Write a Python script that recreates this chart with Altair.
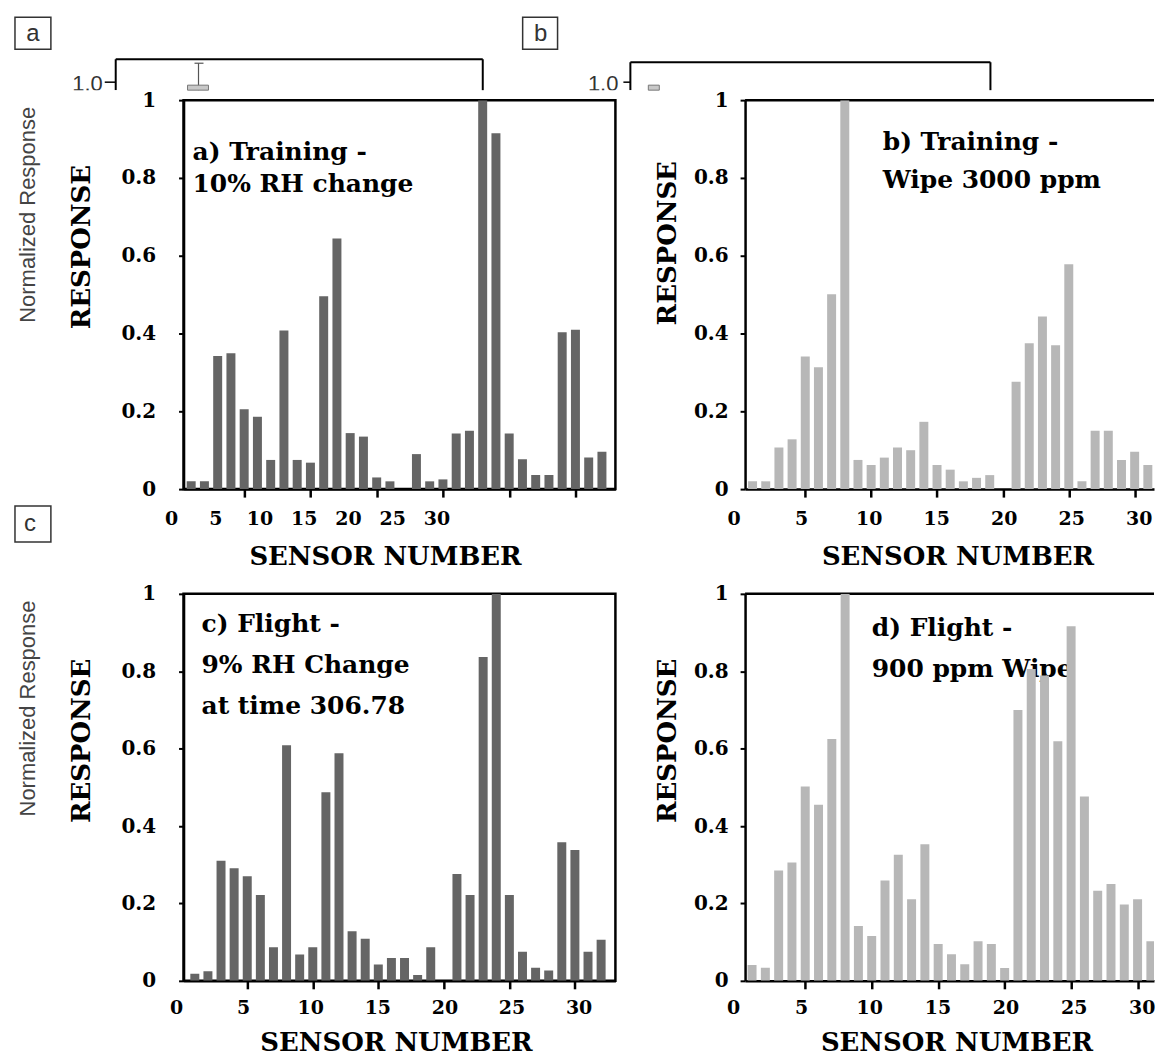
import altair as alt
import pandas as pd

# ---------------- data ----------------
sensors = list(range(1, 33))
resp_a = [0.02, 0.02, 0.342, 0.349, 0.205, 0.186, 0.075, 0.408, 0.075, 0.068,
          0.496, 0.644, 0.144, 0.135, 0.03, 0.02, 0.0, 0.09, 0.02, 0.025,
          0.143, 0.15, 1.0, 0.915, 0.143, 0.077, 0.036, 0.036, 0.403, 0.41,
          0.081, 0.096]
resp_b = [0.02, 0.02, 0.107, 0.128, 0.341, 0.313, 0.501, 1.0, 0.075, 0.062,
          0.081, 0.107, 0.10, 0.173, 0.062, 0.05, 0.02, 0.029, 0.036, 0.0,
          0.276, 0.375, 0.444, 0.37, 0.578, 0.02, 0.15, 0.15, 0.075, 0.096,
          0.062, 0.057]
resp_c = [0.018, 0.025, 0.31, 0.291, 0.27, 0.222, 0.087, 0.609, 0.068, 0.087,
          0.487, 0.588, 0.128, 0.109, 0.042, 0.059, 0.059, 0.015, 0.087, 0.0,
          0.276, 0.222, 0.837, 1.0, 0.222, 0.075, 0.034, 0.027, 0.358, 0.338,
          0.075, 0.106]
resp_d = [0.041, 0.034, 0.285, 0.306, 0.502, 0.455, 0.625, 1.0, 0.142, 0.116,
          0.259, 0.326, 0.211, 0.353, 0.095, 0.069, 0.043, 0.102, 0.095, 0.033,
          0.70, 0.806, 0.789, 0.619, 0.916, 0.476, 0.233, 0.25, 0.197, 0.211,
          0.102]
x_tick_labels = [0, 5, 10, 15, 20, 25, 30]
x_ticks = [5, 10, 15, 20, 25, 30]
y_ticks = [0, 0.2, 0.4, 0.6, 0.8, 1]
notes = {
    "a": ["a) Training -", "10% RH change"],
    "b": ["b) Training -", "Wipe 3000 ppm"],
    "c": ["c) Flight -", "9% RH Change", "at time 306.78"],
    "d": ["d) Flight -", "900 ppm  Wipe"],
}

SERIF = "DejaVu Serif"
SANS = "Liberation Sans"
DARK = "#656565"
LIGHT = "#b7b7b7"
W_L, W_R = 433, 410
H_T, H_B = 390, 388
ONE = alt.InlineData(values=[{"k": 0}])


def rule(x, y, x2=None, y2=None, w=2.0, color="black"):
    enc = dict(x=alt.value(x), y=alt.value(y))
    if x2 is not None:
        enc["x2"] = alt.value(x2)
    if y2 is not None:
        enc["y2"] = alt.value(y2)
    return alt.Chart(ONE).mark_rule(color=color, strokeWidth=w).encode(**enc)


def box(x, x2, y, y2, kind="outline"):
    if kind == "swatch":
        m = alt.Chart(ONE).mark_rect(color="#c8c8c8", stroke="#777777", strokeWidth=1)
    elif kind == "white":
        m = alt.Chart(ONE).mark_rect(color="white")
    else:
        m = alt.Chart(ONE).mark_rect(filled=False, stroke="#333333", strokeWidth=1.5)
    return m.encode(x=alt.value(x), x2=alt.value(x2), y=alt.value(y), y2=alt.value(y2))


def txt(text, x, y, size, font=SERIF, weight="normal", align="left",
        baseline="alphabetic", angle=0, lh=None, color="black"):
    kw = dict(text=text, font=font, fontSize=size, fontWeight=weight, align=align,
              baseline=baseline, angle=angle, color=color)
    if lh is not None:
        kw["lineHeight"] = lh
    return alt.Chart(ONE).mark_text(**kw).encode(x=alt.value(x), y=alt.value(y))


def bars(vals, color, xdom, ylab_pad, ytitle_x, ytitle_y, xtitle_x, xtitle_y):
    df = pd.DataFrame({"sensor": sensors[:len(vals)], "value": vals})
    return alt.Chart(df).mark_bar(size=9, color=color, clip=True).encode(
        x=alt.X("sensor:Q",
                scale=alt.Scale(domain=xdom, nice=False, zero=False),
                axis=alt.Axis(values=x_ticks, labels=False, grid=False,
                              title="SENSOR NUMBER",
                              domainColor="black", domainWidth=2.5,
                              tickColor="black", tickWidth=2.5, tickSize=8,
                              titleFont=SERIF, titleFontSize=26,
                              titleFontWeight="bold", titleColor="black",
                              titleX=xtitle_x, titleY=xtitle_y,
                              titleBaseline="middle", titleAlign="center")),
        y=alt.Y("value:Q",
                scale=alt.Scale(domain=[0, 1], nice=False),
                axis=alt.Axis(values=y_ticks, format="~g", grid=False,
                              title="RESPONSE",
                              domainColor="black", domainWidth=2.5,
                              tickColor="black", tickWidth=2, tickSize=5,
                              labelFont=SERIF, labelFontSize=20,
                              labelFontWeight="bold", labelColor="black",
                              labelPadding=ylab_pad,
                              titleFont=SERIF, titleFontSize=26,
                              titleFontWeight="bold", titleColor="black",
                              titleX=ytitle_x, titleY=ytitle_y,
                              titleBaseline="middle", titleAlign="center",
                              titleAngle=270)),
    )


def tick_labels(dom, yoff):
    df = pd.DataFrame({"v": x_tick_labels})
    return alt.Chart(df).mark_text(font=SERIF, fontSize=19, fontWeight="bold",
                                   color="black", baseline="middle", align="center").encode(
        x=alt.X("v:Q", scale=alt.Scale(domain=dom, nice=False, zero=False), axis=None),
        y=alt.value(yoff),
        text=alt.Text("v:Q", format="d"),
    )


# ---------------- panel a ----------------
dom_a = [0.8, 32.64]
panel_a = alt.layer(
    box(-169, -133, -83, -51),
    txt("a", -151, -66, 24, font=SANS, align="center", baseline="middle", color="#333333"),
    txt("Normalized Response", -156, 115, 22, font=SANS, align="center",
        baseline="middle", angle=270, color="#444444"),
    rule(-68, -41, y2=-10), rule(-68, -41, x2=300), rule(300, -41, y2=-10),
    txt("1.0", -81, -9, 22, font=SANS, align="right", color="#333333"),
    rule(-79, -18, x2=-68, w=1.5),
    rule(15, -37, y2=-10, w=1.2, color="#555555"),
    rule(11, -37, x2=20, w=1.2, color="#555555"),
    box(4, 25, -15, -10, kind="swatch"),
    box(-125, -55, -10, -2, kind="white"),
    txt(notes["a"], 9, 60, 25, weight="bold", lh=32),
    bars(resp_a, DARK, dom_a, 23, -102, 147, 202, 68),
    tick_labels([1.353, 50.17], H_T + 30),
).resolve_scale(x="independent").properties(
    width=W_L, height=H_T, view=alt.ViewBackground(stroke="black", strokeWidth=2.5))

# ---------------- panel b ----------------
dom_b = [0.81, 31.09]
panel_b = alt.layer(
    box(-223, -188, -83, -51),
    txt("b", -205, -66, 24, font=SANS, align="center", baseline="middle", color="#333333"),
    rule(-115, -38, y2=-10), rule(-115, -38, x2=246), rule(246, -38, y2=-10),
    txt("1.0", -127, -9, 22, font=SANS, align="right", color="#333333"),
    rule(-122, -18, x2=-115, w=1.5),
    box(-97, -86, -15, -10, kind="swatch"),
    box(-170, -110, -10, -2, kind="white"),
    rule(0, 0, x2=W_R, w=2.5),
    txt(notes["b"], 138, 50, 25, weight="bold", lh=38),
    bars(resp_b, LIGHT, dom_b, 12, -78, 143, 213, 68),
    tick_labels(dom_b, H_T + 30),
).resolve_scale(x="independent").properties(width=W_R, height=H_T)

# ---------------- panel c ----------------
dom_c = [0.52, 32.71]
panel_c = alt.layer(
    box(-169, -133, -88, -52),
    txt("c", -154, -70, 24, font=SANS, align="center", baseline="middle", color="#333333"),
    txt("Normalized Response", -156, 115, 22, font=SANS, align="center",
        baseline="middle", angle=270, color="#444444"),
    txt(notes["c"], 18, 38, 25, weight="bold", lh=41),
    bars(resp_c, DARK, dom_c, 23, -102, 147, 213, 62),
    tick_labels(dom_c, H_B + 27),
).resolve_scale(x="independent").properties(
    width=W_L, height=H_B, view=alt.ViewBackground(stroke="black", strokeWidth=2.5))

# ---------------- panel d ----------------
dom_d = [0.85, 30.86]
panel_d = alt.layer(
    rule(0, 0, x2=W_R, w=2.5),
    txt(notes["d"], 127, 42, 25, weight="bold", lh=41),
    bars(resp_d, LIGHT, dom_d, 12, -78, 147, 212, 62),
    tick_labels(dom_d, H_B + 27),
).resolve_scale(x="independent").properties(width=W_R, height=H_B)

chart = alt.concat(
    panel_a, panel_b, panel_c, panel_d,
    columns=2, spacing={"row": 105, "column": 130}, bounds="flush",
).properties(
    padding={"left": 5, "top": 6, "right": 0, "bottom": 0},
).configure_view(strokeWidth=0)

chart.save("out.html", embed_options={"renderer": "svg", "actions": False})
